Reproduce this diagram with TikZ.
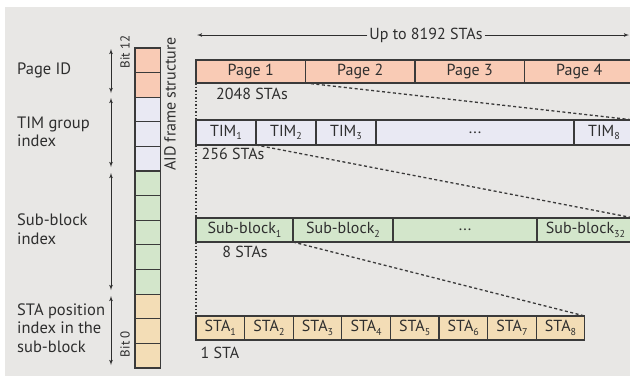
\documentclass[tikz,border=0pt]{standalone}
\usepackage{fontspec}
\setmainfont{PT Sans}
\usetikzlibrary{positioning,arrows,calc}
\definecolor{bggray}{HTML}{E8E7E5}
\definecolor{pagefill}{HTML}{F9CBB5}
\definecolor{timfill}{HTML}{E9E9F3}
\definecolor{subfill}{HTML}{D3E6CB}
\definecolor{stafill}{HTML}{F3DDB6}
\definecolor{edge}{HTML}{3A3A3A}
\definecolor{ink}{HTML}{2E2E2E}
\newcommand{\low}[1]{\raisebox{-0.45ex}{\fontsize{10}{10}\selectfont #1}}
\tikzset{
    cell/.style = {
        draw=edge,
        shape=rectangle,
        line width=1.2pt,
        inner sep=0pt,
        outer sep=0pt,
        text=ink,
        font=\fontsize{16}{18}\selectfont
    },
    pagecell/.style = {
        cell,
        fill=pagefill,
        minimum height=23pt,
        minimum width=109.5pt
    },
    timcell/.style = {
        cell,
        fill=timfill,
        minimum height=25pt
    },
    subcell/.style = {
        cell,
        fill=subfill,
        minimum height=24pt
    },
    stacell/.style = {
        cell,
        fill=stafill,
        minimum height=24pt,
        minimum width=48.6pt
    },
    bitcell/.style = {
        cell,
        minimum height=24.615pt,
        minimum width=25.5pt
    },
    label/.style = {
        text=ink,
        inner sep=0pt,
        align=left,
        font=\fontsize{16.5}{18.5}\selectfont
    },
    count/.style = {
        text=ink,
        inner sep=0pt,
        font=\fontsize{16}{18}\selectfont
    },
    bitmark/.style = {
        text=ink,
        inner sep=0pt,
        rotate=90,
        font=\fontsize{13}{14}\selectfont
    },
    zoom/.style = {
        draw=edge,
        line width=1.3pt,
        dash pattern=on 3pt off 2.5pt
    },
    drop/.style = {
        draw=edge,
        line width=1.3pt,
        dash pattern=on 1.5pt off 2pt
    },
    span/.style = {
        draw=ink,
        line width=0.8pt
    },
    >=latex',
}
\begin{document}
\begin{tikzpicture}[x=1pt,y=-1pt]

            \path[use as bounding box, clip] (0,0) rectangle (630,376);
            \fill[white] (0,0) rectangle (630,376);
            \fill[bggray] (5,7) rectangle (630,376);

            % bit column
            \node[bitcell, fill=pagefill] (bit12) at (147.75,60.3) {};
            \node[bitcell, fill=pagefill] (bit11) at (147.75,84.9) {};
            \node[bitcell, fill=timfill] (bit10) at (147.75,109.5) {};
            \node[bitcell, fill=timfill] (bit9) at (147.75,134.1) {};
            \node[bitcell, fill=timfill] (bit8) at (147.75,158.8) {};
            \node[bitcell, fill=subfill] (bit7) at (147.75,183.4) {};
            \node[bitcell, fill=subfill] (bit6) at (147.75,208.0) {};
            \node[bitcell, fill=subfill] (bit5) at (147.75,232.6) {};
            \node[bitcell, fill=subfill] (bit4) at (147.75,257.2) {};
            \node[bitcell, fill=subfill] (bit3) at (147.75,281.8) {};
            \node[bitcell, fill=stafill] (bit2) at (147.75,306.5) {};
            \node[bitcell, fill=stafill] (bit1) at (147.75,331.1) {};
            \node[bitcell, fill=stafill] (bit0) at (147.75,355.7) {};

            \node[bitmark] (bit_top) at (125,52) {Bit 12};
            \node[bitmark] (bit_low) at (125,344) {Bit 0};
            \node[count, rotate=90] (aid) at (170,104) {AID frame structure};

            % field names
            \node[label, anchor=west] (page_id) at (17,70) {Page ID};
            \node[label, anchor=west] (tim_idx) at (17,132) {TIM group\\index};
            \node[label, anchor=west] (sub_idx) at (17,229) {Sub-block\\index};
            \node[label, anchor=west] (sta_idx) at (17,328) {STA position\\index in the\\sub-block};

            \coordinate (pg_a) at (111,49);
            \coordinate (pg_b) at (111,93);
            \coordinate (tim_a) at (111,98);
            \coordinate (tim_b) at (111,167);
            \coordinate (sub_a) at (111,173);
            \coordinate (sub_b) at (111,290);
            \coordinate (sta_a) at (111,296);
            \coordinate (sta_b) at (111,365);

            \path[span, <->] (pg_a) -- (pg_b);
            \path[span, <->] (tim_a) -- (tim_b);
            \path[span, <->] (sub_a) -- (sub_b);
            \path[span, <->] (sta_a) -- (sta_b);

            % top span
            \node[count, fill=bggray, inner sep=2pt] (upto) at (426,35) {Up to 8192 STAs};
            \coordinate (up_l) at (197,35);
            \coordinate (up_r) at (629,35);
            \path[span, ->] (upto.west) -- (up_l);
            \path[span, ->] (upto.east) -- (up_r);

            % pages
            \node[pagecell] (page1) at (250.75,71.5) {Page 1};
            \node[pagecell] (page2) at (360.25,71.5) {Page 2};
            \node[pagecell] (page3) at (469.75,71.5) {Page 3};
            \node[pagecell] (page4) at (579.25,71.5) {Page 4};
            \node[count] (n_page) at (252,94) {2048 STAs};

            % TIM groups
            \node[timcell, minimum width=60pt] (tim1) at (226,132.5) {TIM\low{1}};
            \node[timcell, minimum width=60pt] (tim2) at (286,132.5) {TIM\low{2}};
            \node[timcell, minimum width=60pt] (tim3) at (346,132.5) {TIM\low{3}};
            \node[timcell, minimum width=198pt] (tim_dots) at (475,132.5) {...};
            \node[timcell, minimum width=60pt] (tim8) at (604,132.5) {TIM\low{8}};
            \node[count] (n_tim) at (233,154) {256 STAs};

            % sub-blocks
            \node[subcell, minimum width=97pt] (sub1) at (244.5,230) {Sub-block\low{1}};
            \node[subcell, minimum width=100pt] (sub2) at (343,230) {Sub-block\low{2}};
            \node[subcell, minimum width=144pt] (sub_dots) at (465,230) {...};
            \node[subcell, minimum width=97pt] (sub32) at (585.5,230) {Sub-block\low{32}};
            \node[count] (n_sub) at (245,252) {8 STAs};

            % stations
            \node[stacell] (sta1) at (220.3,328) {STA\low{1}};
            \node[stacell] (sta2) at (268.9,328) {STA\low{2}};
            \node[stacell] (sta3) at (317.5,328) {STA\low{3}};
            \node[stacell] (sta4) at (366.1,328) {STA\low{4}};
            \node[stacell] (sta5) at (414.7,328) {STA\low{5}};
            \node[stacell] (sta6) at (463.3,328) {STA\low{6}};
            \node[stacell] (sta7) at (511.9,328) {STA\low{7}};
            \node[stacell] (sta8) at (560.5,328) {STA\low{8}};
            \node[count] (n_sta) at (220,353) {1 STA};

            % zoom lines
            \path[drop] (page1.south west) -- (tim1.north west);
            \path[zoom] (page1.south east) -- (tim8.north east);
            \path[drop] (tim1.south west) -- (sub1.north west);
            \path[zoom] (tim1.south east) -- (sub32.north east);
            \path[drop] (sub1.south west) -- (sta1.north west);
            \path[zoom] (sub1.south east) -- (sta8.north east);

        \end{tikzpicture}
\end{document}
